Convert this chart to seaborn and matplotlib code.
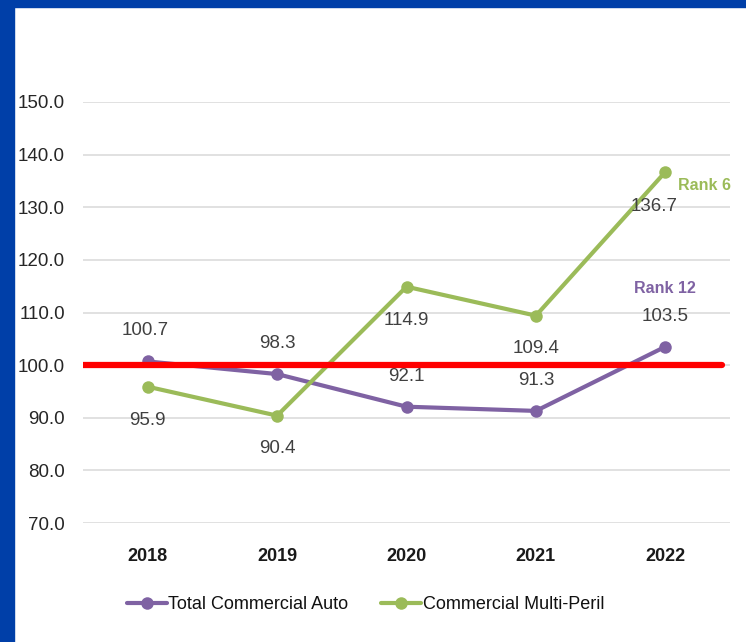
import seaborn as sns
import pandas as pd
import matplotlib.pyplot as plt
from matplotlib.patches import Rectangle

years = ["2018", "2019", "2020", "2021", "2022"]
auto_vals = [100.7, 98.3, 92.1, 91.3, 103.5]
cmp_vals = [95.9, 90.4, 114.9, 109.4, 136.7]
series_names = ["Total Commercial Auto", "Commercial Multi-Peril"]
rank_labels = ["Rank 12", "Rank 6"]
y_ticks = [70, 80, 90, 100, 110, 120, 130, 140, 150]

purple = "#7f62a3"
green = "#9bbb59"

df = pd.DataFrame({
    "year": years * 2,
    "value": auto_vals + cmp_vals,
    "series": [series_names[0]] * 5 + [series_names[1]] * 5,
})

sns.set_style("white")
plt.rcParams["font.family"] = ["Liberation Sans", "DejaVu Sans"]

fig = plt.figure(figsize=(7.46, 6.42), dpi=100)
ax = fig.add_axes([83 / 746, 1 - 523 / 642, (730 - 83) / 746, (523 - 102) / 642])

sns.lineplot(data=df, x="year", y="value", hue="series",
             palette=[purple, green], marker="o", markersize=9,
             markeredgewidth=0, linewidth=3, ax=ax, legend=True)

ax.set_xlim(-0.5, 4.5)
ax.set_ylim(70, 150)
ax.set_yticks(y_ticks)
ax.set_yticklabels([f"{t:.1f}" for t in y_ticks], fontsize=13.5, color="#262626")
ax.set_xticks(range(len(years)))
ax.set_xticklabels(years, fontsize=13, fontweight="bold", color="#1a1a1a")
ax.tick_params(axis="x", length=0, pad=18)
ax.tick_params(axis="y", length=0, pad=13)
ax.set_xlabel("")
ax.set_ylabel("")
ax.grid(axis="y", color="#dedede", linewidth=1.3)
ax.set_axisbelow(True)
for s in ax.spines.values():
    s.set_visible(False)

# benchmark line
ax.axhline(100, xmin=0, xmax=0.988, color="#ff0000", linewidth=4.5, zorder=5)

# data labels
for i, v in enumerate(auto_vals):
    ax.annotate(f"{v:.1f}", (i, v), xytext=(-2 if i == 0 else 0, 22),
                textcoords="offset points", ha="center", va="center",
                fontsize=13.5, color="#404040")
for i, v in enumerate(cmp_vals):
    dx = -8 if i == 4 else 0
    dy = -25 if i == 4 else -24
    ax.annotate(f"{v:.1f}", (i, v), xytext=(dx, dy),
                textcoords="offset points", ha="center", va="center",
                fontsize=13.5, color="#404040")

ax.annotate(rank_labels[0], (4, auto_vals[4]), xytext=(0, 42),
            textcoords="offset points", ha="center", va="center",
            fontsize=11.5, fontweight="bold", color=purple)
ax.annotate(rank_labels[1], (4, cmp_vals[4]), xytext=(28, -10),
            textcoords="offset points", ha="center", va="center",
            fontsize=11.5, fontweight="bold", color=green)

handles, labels = ax.get_legend_handles_labels()
ax.legend_.remove()
fig.legend(handles, labels, loc="center", bbox_to_anchor=(0.49, 0.058),
           ncol=2, frameon=False, fontsize=13, handlelength=2.2,
           handletextpad=0.1, columnspacing=1.8, labelcolor="#111111")

# blue frame
fig.patches.append(Rectangle((0, 0), 14 / 746, 1, transform=fig.transFigure,
                             color="#003fa8", zorder=10))
fig.patches.append(Rectangle((0, 1 - 7 / 642), 1, 7 / 642, transform=fig.transFigure,
                             color="#003fa8", zorder=10))

fig.savefig("out.png", dpi=100)
